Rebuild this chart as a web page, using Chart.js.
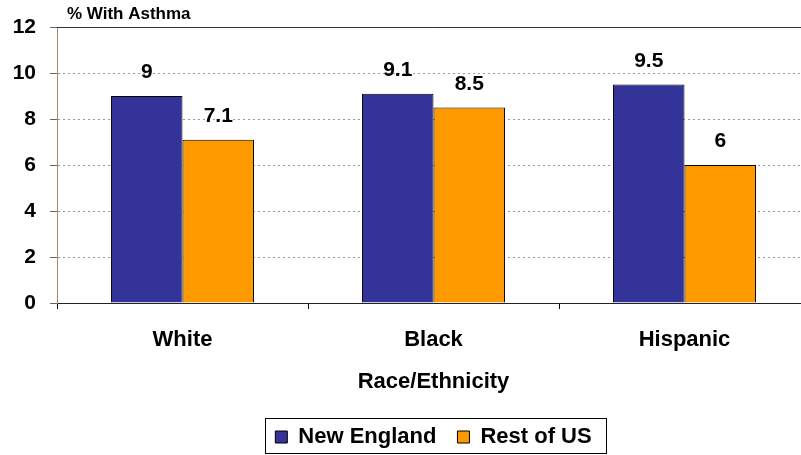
<!DOCTYPE html>
<html>
<head>
<meta charset="utf-8">
<script src="https://cdn.jsdelivr.net/npm/chart.js@4.4.0/dist/chart.umd.min.js"></script>
<style>
  html, body { margin: 0; padding: 0; background: #fff; }
  #wrap { width: 801px; height: 455px; overflow: hidden; }
  #box { width: 810px; height: 455px; }
</style>
</head>
<body>
<div id="wrap"><div id="box"><canvas id="asthmaChart"></canvas></div></div>
<script>
// chart data
const categories = ['White', 'Black', 'Hispanic'];
const newEngland = [9, 9.1, 9.5];
const restOfUS = [7.1, 8.5, 6];
const yTicks = [0, 2, 4, 6, 8, 10, 12];

const FONT = "'Liberation Sans', Arial, sans-serif";

// value labels above bars, axis caption and frame lines
const extras = {
  id: 'extras',
  afterDatasetsDraw(chart) {
    const { ctx, chartArea } = chart;
    ctx.save();
    ctx.font = 'bold 21px ' + FONT;
    ctx.fillStyle = '#000';
    ctx.textAlign = 'center';
    ctx.textBaseline = 'alphabetic';
    chart.data.datasets.forEach((ds, i) => {
      chart.getDatasetMeta(i).data.forEach((bar, j) => {
        ctx.fillText(String(ds.data[j]), bar.x, bar.y - 18);
      });
    });
    // top border
    ctx.strokeStyle = '#333';
    ctx.lineWidth = 1;
    ctx.beginPath();
    ctx.moveTo(chartArea.left, chartArea.top + 0.5);
    ctx.lineTo(chartArea.right, chartArea.top + 0.5);
    ctx.stroke();
    // y axis caption
    ctx.font = 'bold 17px ' + FONT;
    ctx.textAlign = 'left';
    ctx.fillText('% With Asthma', chartArea.left + 10, 19);
    ctx.restore();
  },
  afterDraw(chart) {
    const lg = chart.legend;
    if (!lg || !lg.legendHitBoxes.length) return;
    const hb = lg.legendHitBoxes;
    const first = hb[0], last = hb[hb.length - 1];
    const { ctx } = chart;
    ctx.save();
    ctx.strokeStyle = '#000';
    ctx.lineWidth = 1;
    const x0 = Math.round(first.left - 10) + 0.5;
    const x1 = Math.round(last.left + last.width + 14) + 0.5;
    const y0 = Math.round(first.top + first.height / 2 - 19) + 0.5;
    ctx.strokeRect(x0, y0, x1 - x0, 35);
    ctx.restore();
  }
};

new Chart(document.getElementById('asthmaChart'), {
  type: 'bar',
  data: {
    labels: categories,
    datasets: [
      { label: 'New England', data: newEngland, backgroundColor: '#333399', borderColor: '#000', borderWidth: 1 },
      { label: 'Rest of US', data: restOfUS, backgroundColor: '#FF9900', borderColor: '#000', borderWidth: 1 }
    ]
  },
  options: {
    responsive: true,
    maintainAspectRatio: false,
    animation: false,
    devicePixelRatio: 1,
    layout: { padding: { top: 27, left: 0, right: 0, bottom: 0 } },
    datasets: { bar: { categoryPercentage: 0.57, barPercentage: 1 } },
    plugins: {
      tooltip: { enabled: false },
      legend: {
        position: 'bottom',
        fullSize: false,
        maxHeight: 50,
        labels: {
          font: { family: FONT, size: 22, weight: 'bold' },
          color: '#000',
          boxWidth: 12,
          boxHeight: 12,
          padding: 21
        }
      }
    },
    scales: {
      x: {
        grid: { display: true, offset: true, drawOnChartArea: false, tickLength: 6, tickColor: '#000' },
        border: { color: '#222', width: 1 },
        ticks: { font: { family: FONT, size: 22, weight: 'bold' }, color: '#000', padding: 18 },
        title: {
          display: true, text: 'Race/Ethnicity', color: '#000',
          font: { family: FONT, size: 22, weight: 'bold' },
          padding: { top: 0, bottom: 10 }
        },
        afterFit(scale) { scale.height = 102; }
      },
      y: {
        min: 0, max: 12,
        afterBuildTicks(scale) { scale.ticks = yTicks.map(v => ({ value: v })); },
        grid: { color: '#999', tickColor: '#666', tickLength: 7, lineWidth: 1 },
        border: { color: '#b08a55', width: 1, dash: [2, 3] },
        ticks: { font: { family: FONT, size: 21, weight: 'bold' }, color: '#000', padding: 14 },
        afterFit(scale) { scale.width = 57; }
      }
    }
  },
  plugins: [extras]
});
</script>
</body>
</html>
